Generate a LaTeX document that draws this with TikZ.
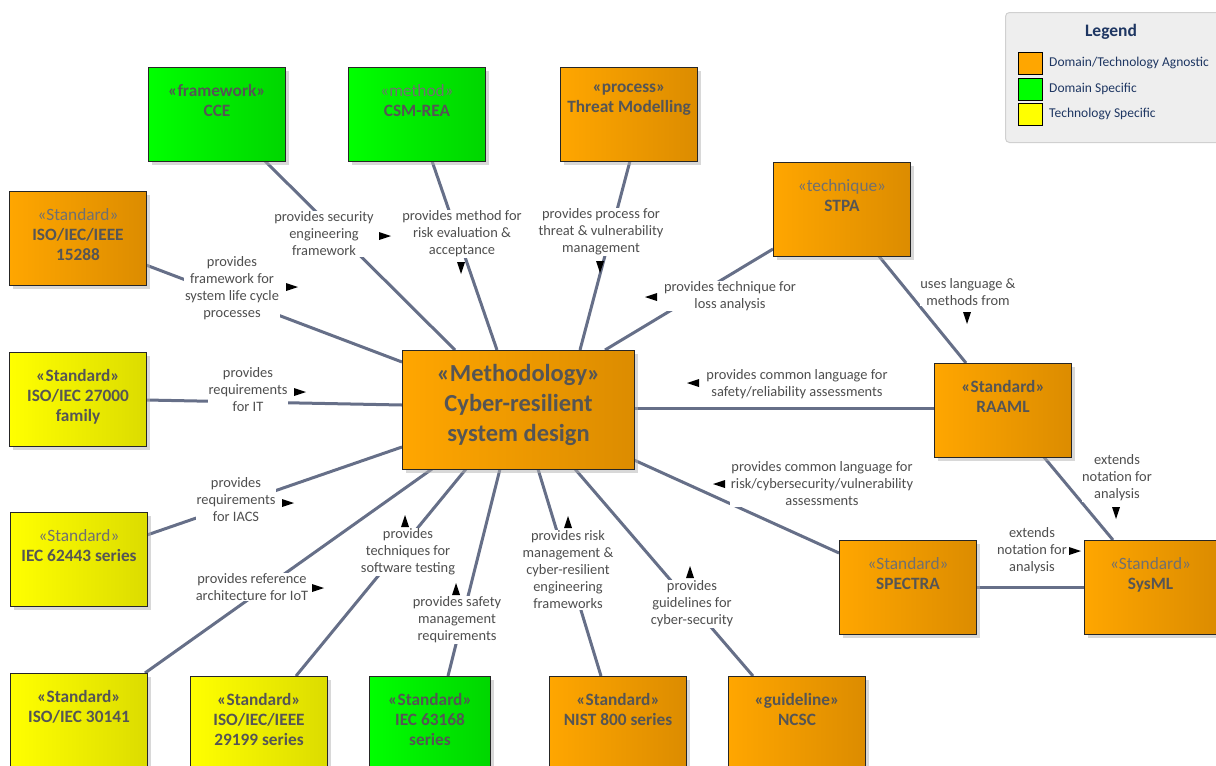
\documentclass[tikz,border=0pt]{standalone}
\usepackage{fontspec}
\setmainfont{Carlito}
\usetikzlibrary{shadows,calc}

\definecolor{orgL}{RGB}{255,166,0}
\definecolor{orgR}{RGB}{220,140,0}
\definecolor{grnL}{RGB}{0,255,0}
\definecolor{grnR}{RGB}{0,214,0}
\definecolor{ylwL}{RGB}{255,255,0}
\definecolor{ylwR}{RGB}{220,220,0}
\definecolor{connC}{RGB}{102,111,136}
\definecolor{nameC}{RGB}{85,85,85}
\definecolor{stereoC}{RGB}{112,112,112}
\definecolor{lblC}{RGB}{78,78,78}
\definecolor{legC}{RGB}{30,54,98}
\definecolor{legFill}{RGB}{238,238,238}
\definecolor{legEdge}{RGB}{208,208,208}

\pgfdeclarelayer{bg}
\pgfsetlayers{bg,main}

\newcommand\stlite[1]{\textcolor{stereoC}{#1}}

\tikzset{
  box/.style={draw=black!85, line width=1pt, anchor=north west, inner sep=0pt,
    minimum width=137pt, minimum height=94pt,
    drop shadow={shadow xshift=3pt, shadow yshift=-3pt, fill=black!30, opacity=0.5}},
  agnostic/.style={box, left color=orgL, right color=orgR},
  domainsp/.style={box, left color=grnL, right color=grnR},
  techsp/.style={box, left color=ylwL, right color=ylwR},
  boxtext/.style={anchor=north, align=center, inner sep=0pt, text=nameC,
    font=\fontsize{17.3}{20}\selectfont\bfseries, yshift=-17pt},
  bigtext/.style={anchor=north, align=center, inner sep=0pt, text=nameC,
    font=\fontsize{24.5}{30}\selectfont\bfseries, yshift=-14pt},
  conn/.style={draw=connC, line width=3pt},
  lbl/.style={align=center, fill=white, inner sep=0.6pt, text=lblC,
    font=\fontsize{14.4}{17}\selectfont},
  swatch/.style={draw=black, line width=1pt, anchor=north west, inner sep=0pt,
    minimum width=24pt, minimum height=22pt},
  legtext/.style={anchor=west, inner sep=0pt, text=legC,
    font=\fontsize{13.5}{16}\selectfont},
  tri/.pic={\fill[black] (-6,-4) -- (6,0) -- (-6,4) -- cycle;}
}

\begin{document}
\begin{tikzpicture}[x=1pt, y=-1pt]
\useasboundingbox (0,0) rectangle (1216,766);

% ---- element boxes ----
\node[domainsp] (cce) at (148,67) {};
\node[boxtext] (cce-t) at (cce.north) {«framework»\\CCE};

\node[domainsp] (csm) at (348,67) {};
\node[boxtext] (csm-t) at (csm.north) {\stlite{\mdseries «method»}\\CSM-REA};

\node[agnostic] (tm) at (560,67) {};
\node[boxtext] (tm-t) at (tm.north) {«process»\\Threat Modelling};

\node[agnostic] (stpa) at (773,162) {};
\node[boxtext] (stpa-t) at (stpa.north) {\stlite{\mdseries «technique»}\\STPA};

\node[agnostic] (i15288) at (9,191) {};
\node[boxtext] (i15288-t) at (i15288.north) {\stlite{\mdseries «Standard»}\\ISO/IEC/IEEE\\15288};

\node[techsp] (i27000) at (9,352) {};
\node[boxtext] (i27000-t) at (i27000.north) {«Standard»\\ISO/IEC 27000\\family};

\node[agnostic, minimum width=232pt, minimum height=119pt] (meth) at (402,350) {};
\node[bigtext] (meth-t) at (meth.north) {«Methodology»\\Cyber-resilient\\system design};

\node[agnostic] (raaml) at (934,363) {};
\node[boxtext] (raaml-t) at (raaml.north) {«Standard»\\RAAML};

\node[techsp] (i62443) at (10,512) {};
\node[boxtext] (i62443-t) at (i62443.north) {\stlite{\mdseries «Standard»}\\IEC 62443 series};

\node[agnostic] (spectra) at (839,540) {};
\node[boxtext] (spectra-t) at (spectra.north) {\stlite{\mdseries «Standard»}\\SPECTRA};

\node[agnostic, minimum width=132pt] (sysml) at (1084,540) {};
\node[boxtext] (sysml-t) at (sysml.north) {\stlite{\mdseries «Standard»}\\SysML};

\node[techsp] (i30141) at (10,673) {};
\node[boxtext] (i30141-t) at (i30141.north) {«Standard»\\ISO/IEC 30141};

\node[techsp] (i29199) at (190,676) {};
\node[boxtext] (i29199-t) at (i29199.north) {«Standard»\\ISO/IEC/IEEE\\29199 series};

\node[domainsp, minimum width=121pt] (i63168) at (369,676) {};
\node[boxtext] (i63168-t) at (i63168.north) {«Standard»\\IEC 63168\\series};

\node[agnostic] (nist) at (549,676) {};
\node[boxtext] (nist-t) at (nist.north) {«Standard»\\NIST 800 series};

\node[agnostic] (ncsc) at (728,676) {};
\node[boxtext] (ncsc-t) at (ncsc.north) {«guideline»\\NCSC};

% ---- connectors (behind the boxes) ----
\begin{pgfonlayer}{bg}
\draw[conn] ([shift={(117,94)}]cce.north west) -- ([shift={(53,0)}]meth.north west);
\draw[conn] ([shift={(84,94)}]csm.north west) -- ([shift={(95,0)}]meth.north west);
\draw[conn] ([shift={(70,94)}]tm.north west) -- ([shift={(178,0)}]meth.north west);
\draw[conn] ([shift={(0,87)}]stpa.north west) -- ([shift={(203,0)}]meth.north west);
\draw[conn] ([shift={(137,74)}]i15288.north west) -- ([shift={(0,12)}]meth.north west);
\draw[conn] ([shift={(137,48)}]i27000.north west) -- ([shift={(0,55)}]meth.north west);
\draw[conn] ([shift={(232,58)}]meth.north west) -- ([shift={(0,45)}]raaml.north west);
\draw[conn] ([shift={(137,23)}]i62443.north west) -- ([shift={(0,97)}]meth.north west);
\draw[conn] ([shift={(135,0)}]i30141.north west) -- ([shift={(30,119)}]meth.north west);
\draw[conn] ([shift={(106,0)}]i29199.north west) -- ([shift={(64,119)}]meth.north west);
\draw[conn] ([shift={(79,0)}]i63168.north west) -- ([shift={(98,119)}]meth.north west);
\draw[conn] ([shift={(52,0)}]nist.north west) -- ([shift={(136,119)}]meth.north west);
\draw[conn] ([shift={(25,0)}]ncsc.north west) -- ([shift={(173,119)}]meth.north west);
\draw[conn] ([shift={(0,13)}]spectra.north west) -- ([shift={(232,110)}]meth.north west);
\draw[conn] ([shift={(105,93)}]stpa.north west) -- ([shift={(32,0)}]raaml.north west);
\draw[conn] ([shift={(109,93)}]raaml.north west) -- ([shift={(29,0)}]sysml.north west);
\draw[conn] ([shift={(136,47)}]spectra.north west) -- ([shift={(0,47)}]sysml.north west);
\end{pgfonlayer}

% ---- connector labels ----
\node[lbl] (l-cce) at (324,234) {provides security\\engineering\\framework};
\node[lbl] (l-csm) at (462,234) {provides method for\\risk evaluation \&\\acceptance};
\node[lbl] (l-tm) at (601,232) {provides process for\\threat \& vulnerability\\management};
\node[lbl] (l-stpa) at (730,296) {provides technique for\\loss analysis};
\node[lbl] (l-15288) at (232,288) {provides\\framework for\\system life cycle\\processes};
\node[lbl] (l-27000) at (248,390) {provides\\requirements\\for IT};
\node[lbl] (l-raaml) at (797,384) {provides common language for\\safety/reliability assessments};
\node[lbl] (l-62443) at (236,500) {provides\\requirements\\for IACS};
\node[lbl] (l-30141) at (252,587) {provides reference\\architecture for IoT};
\node[lbl] (l-29199) at (408,552) {provides\\techniques for\\software testing};
\node[lbl] (l-63168) at (457,620) {provides safety\\management\\requirements};
\node[lbl] (l-nist) at (568,570) {provides risk\\management \&\\cyber-resilient\\engineering\\frameworks};
\node[lbl] (l-ncsc) at (692,604) {provides\\guidelines for\\cyber-security};
\node[lbl] (l-spectra) at (822,484) {provides common language for\\risk/cybersecurity/vulnerability\\assessments};
\node[lbl] (l-uses) at (968,292) {uses language \&\\methods from};
\node[lbl] (l-ext1) at (1117,478) {extends\\notation for\\analysis};
\node[lbl] (l-ext2) at (1032,551) {extends\\notation for\\analysis};

% ---- direction markers ----
\pic at (385,236) {tri};
\pic[rotate=-90] at (461,268) {tri};
\pic[rotate=-90] at (600,267) {tri};
\pic[rotate=180] at (651,297) {tri};
\pic at (292,287) {tri};
\pic at (300,392) {tri};
\pic[rotate=180] at (693,383) {tri};
\pic at (288,503) {tri};
\pic at (318,588) {tri};
\pic[rotate=90] at (405,521) {tri};
\pic[rotate=90] at (456,589) {tri};
\pic[rotate=90] at (568,522) {tri};
\pic[rotate=90] at (690,572) {tri};
\pic[rotate=180] at (719,484) {tri};
\pic[rotate=-90] at (967,318) {tri};
\pic[rotate=-90] at (1116,513) {tri};
\pic at (1075,551) {tri};

% ---- legend ----
\node[draw=legEdge, fill=legFill, line width=1pt, rounded corners=4pt, anchor=north west,
      minimum width=225pt, minimum height=130pt, inner sep=0pt] (legend) at (1005,12) {};
\node[text=legC, font=\fontsize{17.5}{20}\selectfont\bfseries, inner sep=0pt] (legend-h) at (1111,32) {Legend};
\node[swatch, fill=orgL] (sw1) at (1018,52) {};
\node[swatch, fill=grnL] (sw2) at (1018,78) {};
\node[swatch, fill=ylwL] (sw3) at (1018,103) {};
\node[legtext] (lt1) at (1049,63) {Domain/Technology Agnostic};
\node[legtext] (lt2) at (1049,89) {Domain Specific};
\node[legtext] (lt3) at (1049,114) {Technology Specific};
\end{tikzpicture}
\end{document}
